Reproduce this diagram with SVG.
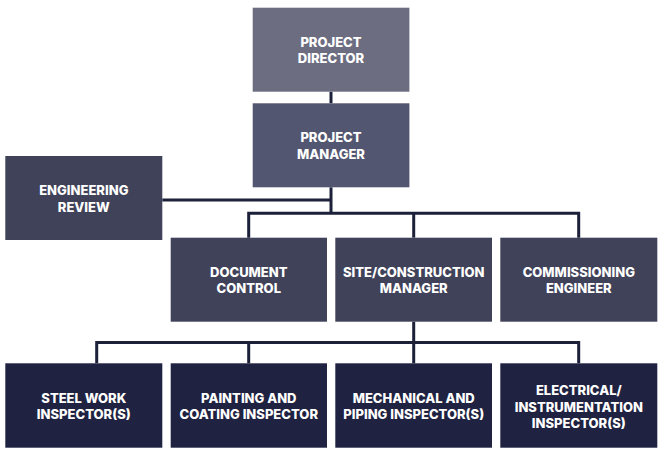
<svg xmlns="http://www.w3.org/2000/svg" width="668" height="461" viewBox="0 0 668 461">
<style>
.box{stroke:none}
.l1{fill:#6c6d81}
.l2{fill:#535670}
.l3{fill:#3f4259}
.l4{fill:#1f2240}
.t{font-family:Inter,Lato,"Liberation Sans",sans-serif;font-weight:800;font-size:13px;fill:#ffffff;text-anchor:middle}
.c{fill:none;stroke:#1c2039;stroke-width:3}
</style>
<rect width="668" height="461" fill="#ffffff"/>
<g id="connectors">
<path class="c" d="M331 91.7 V103.3"/>
<path class="c" d="M331 187.3 V213.3"/>
<path class="c" d="M162.3 200 H331"/>
<path class="c" d="M248.7 237.7 V213.3 H578.7 V237.7"/>
<path class="c" d="M413.7 213.3 V237.7"/>
<path class="c" d="M413.7 321.7 V342.5"/>
<path class="c" d="M96.7 363.3 V342.5 H578.7 V363.3"/>
<path class="c" d="M248.7 342.5 V363.3"/>
<path class="c" d="M413.7 342.5 V363.3"/>
</g>
<g id="project-director">
<rect class="box l1" x="252.7" y="7.7" width="156.7" height="84"/>
<text class="t" x="331" y="46.7">PROJECT</text>
<text class="t" x="331" y="63.4">DIRECTOR</text>
</g>
<g id="project-manager">
<rect class="box l2" x="252.7" y="103.3" width="156.7" height="84"/>
<text class="t" x="331" y="142.3">PROJECT</text>
<text class="t" x="331" y="159">MANAGER</text>
</g>
<g id="engineering-review">
<rect class="box l3" x="5.3" y="156" width="157" height="84"/>
<text class="t" x="83.8" y="195">ENGINEERING</text>
<text class="t" x="83.8" y="211.7">REVIEW</text>
</g>
<g id="document-control">
<rect class="box l3" x="170.7" y="237.7" width="156.3" height="84"/>
<text class="t" x="248.8" y="276.7">DOCUMENT</text>
<text class="t" x="248.8" y="293.4">CONTROL</text>
</g>
<g id="site-construction-manager">
<rect class="box l3" x="335.3" y="237.7" width="156.7" height="84"/>
<text class="t" x="413.7" y="276.7">SITE/CONSTRUCTION</text>
<text class="t" x="413.7" y="293.4">MANAGER</text>
</g>
<g id="commissioning-engineer">
<rect class="box l3" x="500.3" y="237.7" width="157" height="84"/>
<text class="t" x="578.8" y="276.7">COMMISSIONING</text>
<text class="t" x="578.8" y="293.4">ENGINEER</text>
</g>
<g id="steel-work-inspector">
<rect class="box l4" x="5.3" y="363.3" width="157" height="84.4"/>
<text class="t" x="83.8" y="402.5">STEEL WORK</text>
<text class="t" x="83.8" y="419.2">INSPECTOR(S)</text>
</g>
<g id="painting-coating-inspector">
<rect class="box l4" x="170.7" y="363.3" width="156.3" height="84.4"/>
<text class="t" x="248.8" y="402.5">PAINTING AND</text>
<text class="t" x="248.8" y="419.2">COATING INSPECTOR</text>
</g>
<g id="mechanical-piping-inspector">
<rect class="box l4" x="335.3" y="363.3" width="156.7" height="84.4"/>
<text class="t" x="413.7" y="402.5">MECHANICAL AND</text>
<text class="t" x="413.7" y="419.2">PIPING INSPECTOR(S)</text>
</g>
<g id="electrical-instrumentation-inspector">
<rect class="box l4" x="500.3" y="363.3" width="157" height="84.4"/>
<text class="t" x="578.8" y="395">ELECTRICAL/</text>
<text class="t" x="578.8" y="411.7">INSTRUMENTATION</text>
<text class="t" x="578.8" y="428.4">INSPECTOR(S)</text>
</g>
</svg>
